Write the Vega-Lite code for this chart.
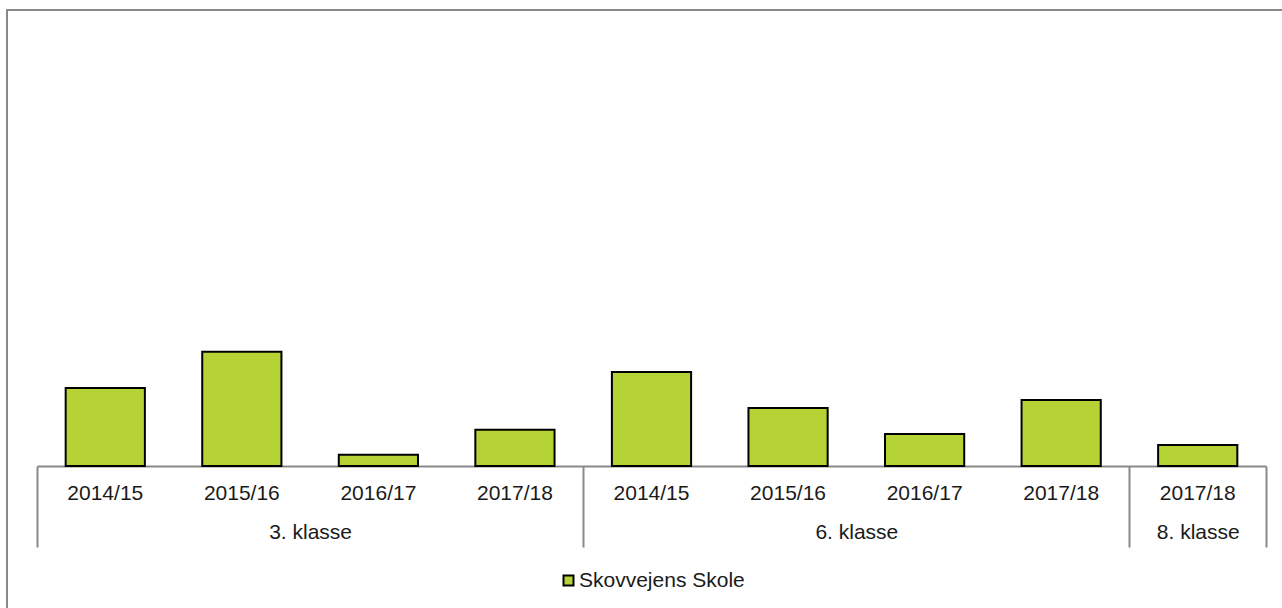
{
  "$schema": "https://vega.github.io/schema/vega-lite/v6.json",
  "autosize": "none",
  "width": 1295,
  "height": 618,
  "padding": {"left": 7, "top": 10, "right": -20, "bottom": -20},
  "background": "white",
  "config": {
    "font": "Liberation Sans",
    "view": {"stroke": "#898989", "strokeWidth": 2}
  },
  "data": {
    "values": [
      {"key": "3. klasse|2014/15", "klasse": "3. klasse", "year": "2014/15", "value": 17.5, "school": "Skovvejens Skole"},
      {"key": "3. klasse|2015/16", "klasse": "3. klasse", "year": "2015/16", "value": 25.6, "school": "Skovvejens Skole"},
      {"key": "3. klasse|2016/17", "klasse": "3. klasse", "year": "2016/17", "value": 2.5, "school": "Skovvejens Skole"},
      {"key": "3. klasse|2017/18", "klasse": "3. klasse", "year": "2017/18", "value": 8.1, "school": "Skovvejens Skole"},
      {"key": "6. klasse|2014/15", "klasse": "6. klasse", "year": "2014/15", "value": 21.1, "school": "Skovvejens Skole"},
      {"key": "6. klasse|2015/16", "klasse": "6. klasse", "year": "2015/16", "value": 13.0, "school": "Skovvejens Skole"},
      {"key": "6. klasse|2016/17", "klasse": "6. klasse", "year": "2016/17", "value": 7.2, "school": "Skovvejens Skole"},
      {"key": "6. klasse|2017/18", "klasse": "6. klasse", "year": "2017/18", "value": 14.8, "school": "Skovvejens Skole"},
      {"key": "8. klasse|2017/18", "klasse": "8. klasse", "year": "2017/18", "value": 4.7, "school": "Skovvejens Skole"}
    ]
  },
  "resolve": {"scale": {"x": "shared"}, "axis": {"x": "independent"}},
  "layer": [
    {
      "mark": {"type": "bar", "stroke": "black", "strokeWidth": 2},
      "encoding": {
        "x": {
          "field": "key", "type": "nominal", "sort": null,
          "scale": {"range": [30, 1259], "paddingInner": 0.42, "paddingOuter": 0.21},
          "axis": {
            "orient": "bottom", "offset": -162, "title": null,
            "domain": true, "domainColor": "#898989", "domainWidth": 2,
            "ticks": false, "labelAngle": 0,
            "labelExpr": "split(datum.value, '|')[1]",
            "labelFont": "Liberation Sans", "labelFontSize": 21, "labelColor": "#1a1a1a",
            "labelBaseline": "middle", "labelPadding": 27,
            "labelOverlap": false, "labelBound": false, "labelFlush": false
          }
        },
        "y": {
          "field": "value", "type": "quantitative",
          "scale": {"domain": [0, 100], "range": [456, 10], "nice": false},
          "axis": null
        },
        "color": {
          "field": "school", "type": "nominal",
          "scale": {"range": ["#b5d334"]},
          "legend": {
            "title": null, "orient": "none", "legendX": 551, "legendY": 560,
            "symbolType": "square", "symbolSize": 100, "symbolStrokeColor": "black",
            "symbolStrokeWidth": 2, "symbolOpacity": 1,
            "labelFont": "Liberation Sans", "labelFontSize": 21, "labelColor": "#1a1a1a",
            "labelOffset": 0, "labelLimit": 400, "padding": 0
          }
        }
      }
    },
    {
      "mark": {"type": "bar", "opacity": 0},
      "encoding": {
        "x": {
          "field": "key", "type": "nominal", "sort": null,
          "axis": {
            "orient": "bottom", "offset": -162, "title": null,
            "domain": false,
            "ticks": true, "tickOffset": -68.28, "tickSize": 81, "tickWidth": 2,
            "tickColor": {
              "condition": {"test": "indexof(['3. klasse|2014/15', '6. klasse|2014/15', '8. klasse|2017/18'], datum.value) >= 0", "value": "#898989"},
              "value": "transparent"
            },
            "labelAngle": 0,
            "labelExpr": "datum.value == '3. klasse|2016/17' ? '3. klasse' : datum.value == '6. klasse|2016/17' ? '6. klasse' : datum.value == '8. klasse|2017/18' ? '8. klasse' : ''",
            "labelOffset": {
              "condition": {"test": "datum.value == '8. klasse|2017/18'", "value": 68.28},
              "value": 0
            },
            "labelFont": "Liberation Sans", "labelFontSize": 21, "labelColor": "#1a1a1a",
            "labelBaseline": "middle", "labelPadding": -15,
            "labelOverlap": false, "labelBound": false, "labelFlush": false
          }
        },
        "y": {"field": "value", "type": "quantitative"}
      }
    },
    {
      "mark": {"type": "bar", "opacity": 0},
      "encoding": {
        "x": {
          "field": "key", "type": "nominal", "sort": null,
          "axis": {
            "orient": "bottom", "offset": -162, "title": null,
            "domain": false, "labels": false,
            "ticks": true, "tickOffset": 68.28, "tickSize": 81, "tickWidth": 2,
            "tickColor": {
              "condition": {"test": "datum.value == '8. klasse|2017/18'", "value": "#898989"},
              "value": "transparent"
            }
          }
        },
        "y": {"field": "value", "type": "quantitative"}
      }
    }
  ]
}
